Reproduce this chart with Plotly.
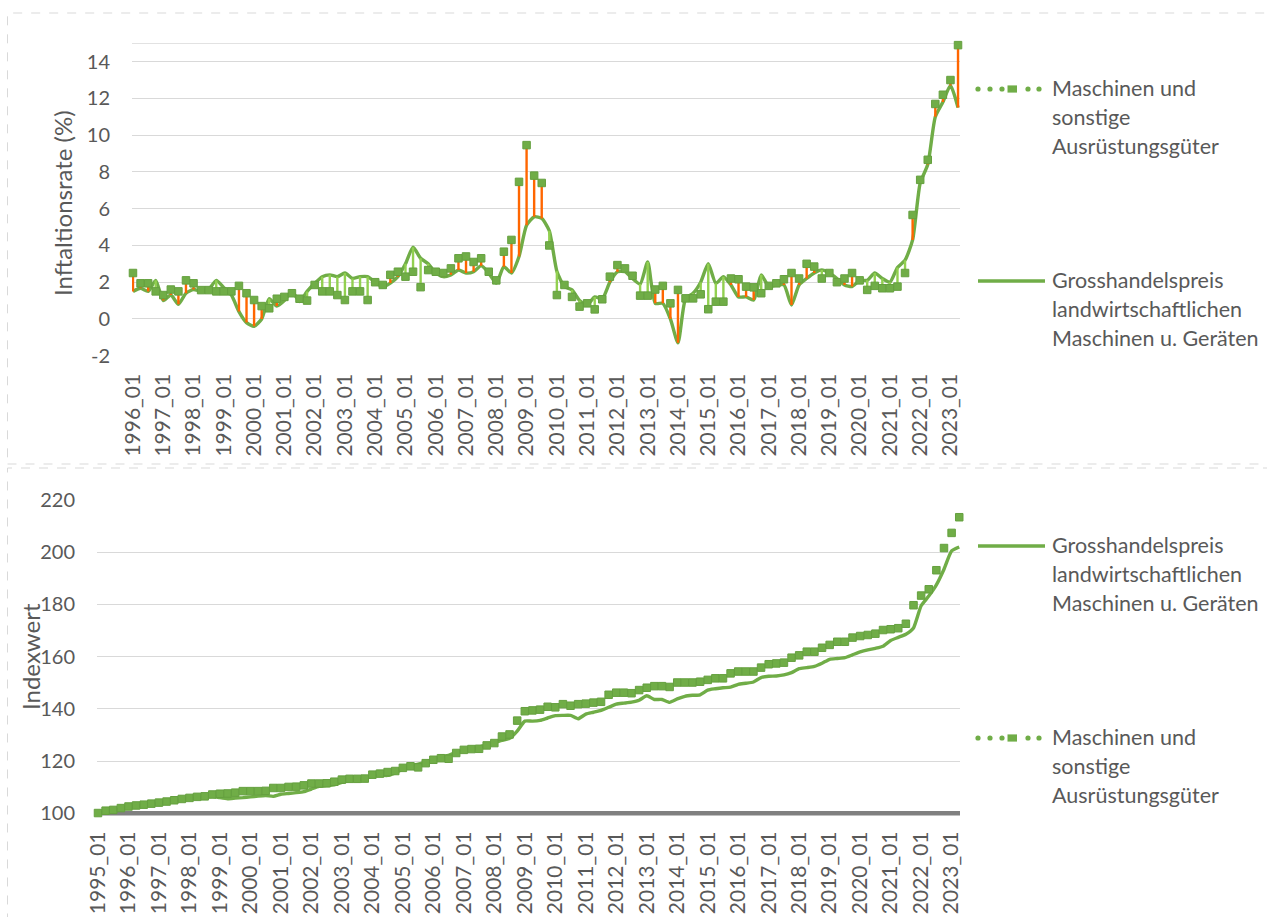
import plotly.graph_objects as go

W, H = 1267, 917

# ---------------- data ----------------
quarters = ["01", "04", "07", "10"]
top_categories = [f"{y}_{m}" for y in range(1996, 2024) for m in quarters][:110]
bottom_categories = [f"{y}_{m}" for y in range(1995, 2024) for m in quarters][:114]
top_tick_labels = [f"{y}_01" for y in range(1996, 2024)]
bottom_tick_labels = [f"{y}_01" for y in range(1995, 2024)]

# Inflation rate (%) - Maschinen und sonstige Ausrüstungsgüter (markers)
infl_maschinen = [
    2.5, 1.94, 1.94, 1.5, 1.3, 1.6, 1.5, 2.1, 1.94, 1.57, 1.57, 1.5,
    1.5, 1.5, 1.8, 1.4, 1.03, 0.7, 0.58, 1.1, 1.2, 1.4, 1.1, 1.0,
    1.85, 1.5, 1.5, 1.3, 1.03, 1.5, 1.5, 1.03, 2.0, 1.85, 2.4, 2.57,
    2.3, 2.57, 1.73, 2.66, 2.57, 2.5, 2.75, 3.3, 3.4, 3.1, 3.3, 2.57,
    2.1, 3.66, 4.3, 7.46, 9.46, 7.8, 7.4, 4.0, 1.3, 1.85, 1.2, 0.67,
    0.85, 0.52, 1.07, 2.3, 2.93, 2.75, 2.35, 1.27, 1.27, 1.6, 1.8, 0.85,
    1.58, 1.12, 1.12, 1.34, 0.53, 0.94, 0.94, 2.2, 2.16, 1.76, 1.72, 1.4,
    1.8, 1.94, 2.16, 2.5, 2.2, 3.0, 2.85, 2.2, 2.5, 2.0, 2.2, 2.5,
    2.1, 1.58, 1.8, 1.67, 1.67, 1.76, 2.5, 5.66, 7.57, 8.66, 11.7, 12.2,
    13.0, 14.9,
]
# Inflation rate (%) - Grosshandelspreis landwirtschaftlichen Maschinen u. Geräten (line)
infl_grosshandel = [
    1.5, 1.67, 1.5, 2.1, 1.0, 1.3, 0.8, 1.4, 1.6, 1.5, 1.6, 2.1,
    1.7, 1.3, 0.4, -0.2, -0.4, 0.0, 1.1, 0.7, 1.0, 1.5, 0.95, 1.5,
    1.94, 2.3, 2.4, 2.3, 2.5, 2.2, 2.3, 2.3, 2.0, 1.75, 1.95, 2.3,
    3.0, 3.9, 3.3, 3.0, 2.5, 2.3, 2.4, 2.66, 2.5, 2.57, 2.9, 2.5,
    1.95, 2.84, 2.5, 3.4, 5.1, 5.56, 5.47, 4.8, 2.6, 1.76, 1.58, 1.0,
    0.76, 1.2, 1.1, 2.0, 2.57, 2.57, 2.2, 1.9, 3.1, 0.85, 0.85, 0.0,
    -1.3, 1.1, 1.4, 2.0, 3.0, 1.94, 2.3, 1.85, 1.2, 1.2, 1.03, 2.4,
    1.76, 1.85, 1.85, 0.76, 1.85, 2.2, 2.5, 2.67, 2.5, 2.2, 1.85, 1.76,
    2.1, 2.1, 2.5, 2.2, 2.0, 2.8, 3.2, 4.3, 7.4, 8.4, 11.0, 11.8,
    12.7, 11.5,
]

# Index values - Maschinen und sonstige Ausrüstungsgüter (markers)
index_maschinen = [
    100.1, 101.0, 101.3, 102.0, 102.6, 103.0, 103.3, 103.7, 104.1, 104.5,
    105.0, 105.5, 105.9, 106.3, 106.5, 107.2, 107.5, 107.6, 107.9, 108.5,
    108.5, 108.5, 108.6, 109.7, 109.7, 110.1, 110.2, 110.7, 111.4, 111.4,
    111.5, 112.1, 112.9, 113.2, 113.2, 113.3, 114.8, 115.2, 115.8, 116.2,
    117.4, 118.0, 117.6, 119.2, 120.5, 121.1, 120.9, 123.1, 124.3, 124.6,
    124.7, 126.0, 126.9, 129.4, 130.2, 135.5, 139.1, 139.4, 139.7, 140.8,
    140.6, 141.8, 141.2, 141.8, 142.0, 142.4, 142.7, 145.4, 146.2, 146.2,
    146.0, 147.2, 148.1, 148.7, 148.7, 148.4, 150.1, 150.1, 150.1, 150.4,
    151.1, 151.7, 151.7, 153.6, 154.3, 154.3, 154.3, 155.8, 157.1, 157.4,
    157.7, 159.6, 160.5, 161.9, 161.9, 163.4, 164.5, 165.7, 165.7, 167.3,
    167.9, 168.3, 168.8, 170.2, 170.5, 170.9, 172.6, 179.7, 183.4, 185.8,
    193.1, 201.6, 207.4, 213.4,
]
# Index values - Grosshandelspreis landwirtschaftlichen Maschinen u. Geräten (line)
index_grosshandel = [
    100.0, 100.5, 101.0, 101.6, 102.2, 102.7, 103.0, 103.4, 103.8, 104.2,
    104.6, 105.0, 105.5, 105.9, 106.2, 106.5, 106.0, 105.6, 105.8, 106.0,
    106.3, 106.6, 106.8, 106.5, 107.3, 107.6, 107.9, 108.3, 109.3, 110.3,
    110.6, 110.9, 111.8, 112.6, 112.8, 113.2, 114.2, 114.6, 114.5, 115.5,
    117.0, 118.3, 118.8, 119.6, 120.8, 121.6, 122.2, 123.4, 123.9, 124.6,
    125.3, 126.3, 127.2, 127.9, 128.7, 131.5, 135.3, 135.3, 135.6, 136.5,
    137.4, 137.5, 137.5, 136.2, 138.0, 138.7, 139.4, 140.6, 141.8, 142.2,
    142.6, 143.3, 145.0, 143.6, 143.6, 142.5, 143.8, 144.8, 145.2, 145.4,
    147.2, 147.7, 148.1, 148.3, 149.4, 149.8, 150.3, 152.0, 152.5, 152.6,
    153.0, 153.9, 155.4, 155.8, 156.3, 157.5, 159.0, 159.3, 159.6, 160.7,
    161.8, 162.6, 163.2, 164.0, 166.2, 167.4, 168.6, 171.0, 179.5, 183.2,
    187.5, 193.5, 200.5, 202.0,
]

top_y_ticks = [-2, 0, 2, 4, 6, 8, 10, 12, 14]
top_y_labels = ["-2", "0", "2", "4", "6", "8", "10", "12", "14"]
bottom_y_ticks = [100, 120, 140, 160, 180, 200, 220]

name_m = "Maschinen und sonstige Ausrüstungsgüter"
name_g = "Grosshandelspreis landwirtschaftlichen Maschinen u. Geräten"

# ---------------- styling ----------------
FONT = "Lato"
TXT = "#595959"
GREEN = "#70AD47"
LIGHT_GREEN = "#92D050"
ORANGE = "#FF6600"
GRID = "#D9D9D9"


def px(x):
    return x / W


def py(y):
    return 1 - y / H


fig = go.Figure()

# ---- top chart ----
fig.add_trace(go.Scatter(
    x=top_categories, y=infl_grosshandel, mode="lines", name=name_g,
    line=dict(color=GREEN, width=3.4, shape="spline", smoothing=0.6),
    xaxis="x", yaxis="y", showlegend=False, cliponaxis=False,
))

up_x, up_y, dn_x, dn_y = [], [], [], []
for c, m, g in zip(top_categories, infl_maschinen, infl_grosshandel):
    if m >= g:
        up_x += [c, c, None]
        up_y += [g, m, None]
    else:
        dn_x += [c, c, None]
        dn_y += [m, g, None]

fig.add_trace(go.Scatter(x=dn_x, y=dn_y, mode="lines", line=dict(color=LIGHT_GREEN, width=2.4),
                         xaxis="x", yaxis="y", showlegend=False, hoverinfo="skip"))
fig.add_trace(go.Scatter(x=up_x, y=up_y, mode="lines", line=dict(color=ORANGE, width=2.4),
                         xaxis="x", yaxis="y", showlegend=False, hoverinfo="skip"))

fig.add_trace(go.Scatter(
    x=top_categories, y=infl_maschinen, mode="markers", name=name_m,
    marker=dict(symbol="square", size=7.5, color=GREEN, line=dict(color="#65A03F", width=1)),
    xaxis="x", yaxis="y", showlegend=False, cliponaxis=False,
))

# ---- bottom chart ----
fig.add_trace(go.Scatter(
    x=bottom_categories, y=index_grosshandel, mode="lines", name=name_g,
    line=dict(color=GREEN, width=3.4, shape="spline", smoothing=0.5),
    xaxis="x2", yaxis="y2", showlegend=False, cliponaxis=False,
))
fig.add_trace(go.Scatter(
    x=bottom_categories, y=index_maschinen, mode="markers", name=name_m,
    marker=dict(symbol="square", size=7.5, color=GREEN, line=dict(color="#65A03F", width=1)),
    xaxis="x2", yaxis="y2", showlegend=False, cliponaxis=False,
))

tickfont = dict(family=FONT, size=21, color=TXT)
ytickfont = dict(family=FONT, size=20, color=TXT)

fig.update_layout(
    width=W, height=H,
    margin=dict(l=0, r=0, t=0, b=0, pad=0, autoexpand=False),
    paper_bgcolor="white", plot_bgcolor="white",
    font=dict(family=FONT, color=TXT),
    xaxis=dict(
        domain=[px(132), px(960)], anchor="y", type="category", automargin=False,
        range=[-0.13, len(top_categories) - 1 + 0.26],
        tickmode="array", tickvals=top_tick_labels, ticktext=top_tick_labels,
        tickangle=-90, tickfont=tickfont, showgrid=False, showline=False,
        ticks="", ticklabelstandoff=13, zeroline=False,
    ),
    yaxis=dict(
        domain=[py(355.7), py(43.3)], anchor="x", range=[-2, 15], automargin=False,
        tickmode="array", tickvals=top_y_ticks, ticktext=top_y_labels,
        tickfont=ytickfont, showgrid=True, gridcolor=GRID, gridwidth=1.3,
        zeroline=False, showline=False, ticks="", ticklabelstandoff=21,
    ),
    xaxis2=dict(
        domain=[px(97), px(960)], anchor="y2", type="category", automargin=False,
        range=[-0.13, len(bottom_categories) - 1 + 0.1],
        tickmode="array", tickvals=bottom_tick_labels, ticktext=bottom_tick_labels,
        tickangle=-90, tickfont=tickfont, showgrid=False, showline=False,
        ticks="", ticklabelstandoff=13, zeroline=False,
    ),
    yaxis2=dict(
        domain=[py(813.3), py(500)], anchor="x2", range=[100, 220], automargin=False,
        tickmode="array", tickvals=bottom_y_ticks,
        tickfont=ytickfont, showgrid=True, gridcolor=GRID, gridwidth=1.3,
        zeroline=False, showline=False, ticks="", ticklabelstandoff=21,
    ),
    showlegend=False,
)

shapes = []
# dashed chart-area borders
shapes.append(dict(type="rect", xref="paper", yref="paper", x0=px(7.5), x1=1.02, y0=py(464), y1=py(13),
                   line=dict(color=GRID, width=1, dash="dash"), fillcolor="rgba(0,0,0,0)", layer="below"))
shapes.append(dict(type="rect", xref="paper", yref="paper", x0=px(7.5), x1=1.02, y0=-0.05, y1=py(468),
                   line=dict(color=GRID, width=1, dash="dash"), fillcolor="rgba(0,0,0,0)", layer="below"))
# top border gridline at 15
shapes.append(dict(type="line", xref="x domain", yref="y", x0=0, x1=1, y0=15, y1=15,
                   line=dict(color=GRID, width=1.3), layer="below"))
# bottom axis line (value 100) - paper-referenced so it is not clipped
shapes.append(dict(type="line", xref="paper", yref="paper", x0=px(97), x1=px(960),
                   y0=py(813.3), y1=py(813.3), line=dict(color="#808080", width=4.5), layer="below"))


def solid_symbol(yc):
    shapes.append(dict(type="line", xref="paper", yref="paper", x0=px(978), x1=px(1045),
                       y0=py(yc), y1=py(yc), line=dict(color=GREEN, width=3.5)))


def dotted_symbol(yc):
    for xc in (978, 990, 1002, 1028, 1039):
        r = 2.6
        shapes.append(dict(type="circle", xref="paper", yref="paper",
                           x0=px(xc - r), x1=px(xc + r), y0=py(yc + r), y1=py(yc - r),
                           fillcolor=GREEN, line=dict(width=0)))
    shapes.append(dict(type="rect", xref="paper", yref="paper",
                       x0=px(1007.5), x1=px(1017), y0=py(yc + 3.6), y1=py(yc - 3.6),
                       fillcolor=GREEN, line=dict(width=0)))


dotted_symbol(89)
solid_symbol(281)
solid_symbol(546)
dotted_symbol(738)

annotations = []


def legend_text(lines, y_first):
    for k, t in enumerate(lines):
        annotations.append(dict(
            text=t, xref="paper", yref="paper", x=px(1050), y=py(y_first + 29 * k - 1),
            xanchor="left", yanchor="middle", showarrow=False,
            font=dict(family=FONT, size=21.5, color=TXT),
        ))


legend_m_lines = ["Maschinen und", "sonstige", "Ausrüstungsgüter"]
legend_g_lines = ["Grosshandelspreis", "landwirtschaftlichen", "Maschinen u. Geräten"]
legend_text(legend_m_lines, 89)
legend_text(legend_g_lines, 281)
legend_text(legend_g_lines, 546)
legend_text(legend_m_lines, 738)

annotations.append(dict(text="Inftaltionsrate (%)", xref="paper", yref="paper", x=px(62), y=py(203),
                        xanchor="center", yanchor="middle", textangle=-90, showarrow=False,
                        font=dict(family=FONT, size=24, color=TXT)))
annotations.append(dict(text="Indexwert", xref="paper", yref="paper", x=px(30), y=py(657),
                        xanchor="center", yanchor="middle", textangle=-90, showarrow=False,
                        font=dict(family=FONT, size=24, color=TXT)))

fig.update_layout(shapes=shapes, annotations=annotations)

fig.write_html("out.html", config={"displayModeBar": False},
               post_script="document.body.style.margin='0px';")
